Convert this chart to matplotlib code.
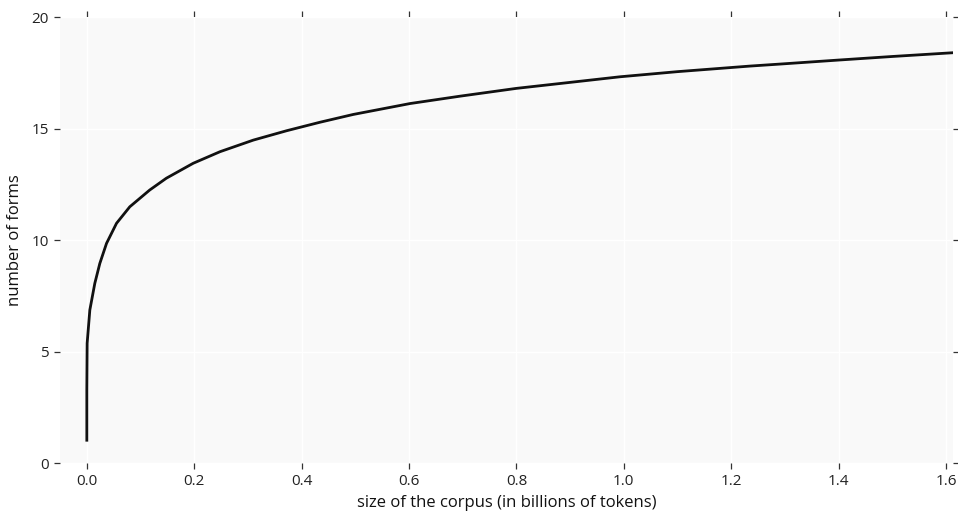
import matplotlib
matplotlib.use("Agg")
import matplotlib.pyplot as plt

plt.rcParams['font.family'] = ['Open Sans', 'DejaVu Sans']

# corpus size (billions of tokens) vs number of forms
corpus_size = [0.0, 0.0, 0.0006, 0.0056, 0.0149, 0.0242, 0.0367, 0.0553, 0.080,
               0.117, 0.148, 0.198, 0.248, 0.310, 0.372, 0.434, 0.496, 0.602,
               0.695, 0.800, 0.893, 0.993, 1.10, 1.235, 1.291, 1.4, 1.5, 1.614]
n_forms = [0.96, 3.27, 5.37, 6.86, 8.06, 8.95, 9.85, 10.75, 11.49,
           12.24, 12.77, 13.44, 13.96, 14.48, 14.9, 15.28, 15.63, 16.12,
           16.45, 16.8, 17.05, 17.32, 17.55, 17.8, 17.89, 18.07, 18.23, 18.4]

xticks = [0.0, 0.2, 0.4, 0.6, 0.8, 1.0, 1.2, 1.4, 1.6]
yticks = [0, 5, 10, 15, 20]


def main():
    fig = plt.figure(figsize=(9.58, 5.17), dpi=100)
    ax = fig.add_axes([0.0626, 0.1044, 0.9322, 0.8627])
    ax.set_facecolor('#f9f9f9')

    ax.plot(corpus_size, n_forms, color='#111111', linewidth=2.0,
            solid_capstyle='butt', solid_joinstyle='round', zorder=3)

    ax.set_xlim(-0.05, 1.613)
    ax.set_ylim(0, 20)
    ax.set_xticks(xticks)
    ax.set_xticklabels(['%.1f' % t for t in xticks])
    ax.set_yticks(yticks)

    ax.grid(True, color='white', linewidth=1.0)
    ax.set_axisbelow(True)
    for s in ax.spines.values():
        s.set_visible(False)

    ax.tick_params(axis='both', which='both', direction='out', length=4,
                   width=0.9, color='#333333', labelsize=11, labelcolor='#222222',
                   top=True, right=True, labeltop=False, labelright=False, pad=4)

    ax.set_xlabel('size of the corpus (in billions of tokens)', fontsize=12,
                  color='#111111', labelpad=4)
    ax.set_ylabel('number of forms', fontsize=12, color='#111111', labelpad=6)

    fig.savefig('out.png', dpi=100)


if __name__ == "__main__":
    main()
